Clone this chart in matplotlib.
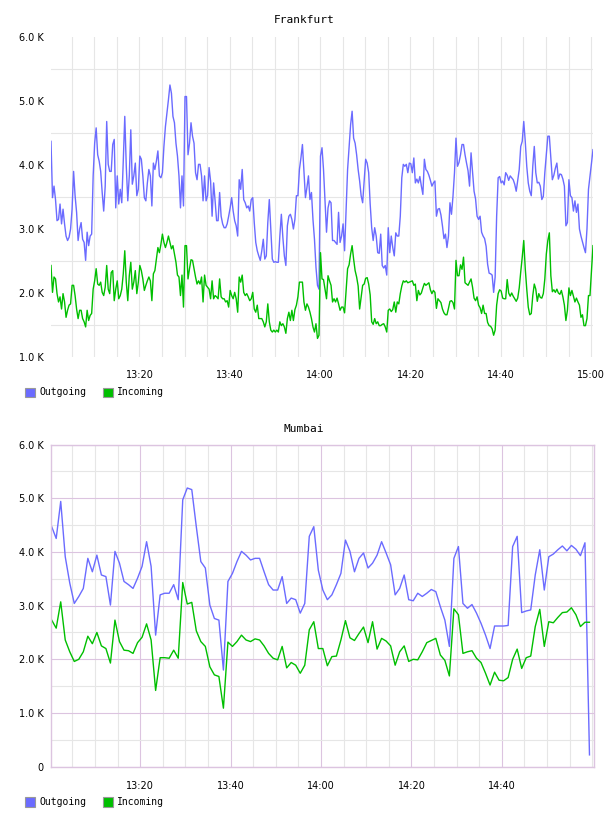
import matplotlib
matplotlib.use("Agg")
import matplotlib.pyplot as plt
import matplotlib.dates as mdates
from matplotlib.patches import Rectangle
from matplotlib.ticker import FixedLocator, FuncFormatter
import pandas as pd

# ---------------- data (values in thousands) ----------------
titles = ["Frankfurt", "Mumbai"]
series_names = ["Outgoing", "Incoming"]
series_colors = ["#6b6bff", "#00bf00"]

frankfurt_start = "2024-01-01 13:00:25"
frankfurt_step = "20s"
frankfurt_out = [
    4.37, 3.49, 3.67, 3.46, 3.13, 3.15, 3.39, 3.08, 3.31, 3.08,
    2.89, 2.82, 2.87, 3.00, 3.31, 3.90, 3.52, 3.26, 2.82, 3.00,
    3.10, 2.84, 2.79, 2.51, 2.95, 2.74, 2.89, 2.92, 3.83, 4.34,
    4.58, 4.16, 4.06, 3.90, 3.57, 3.28, 3.67, 4.68, 4.01, 3.90,
    3.90, 4.32, 4.40, 3.33, 3.83, 3.39, 3.62, 3.41, 4.06, 4.76,
    3.98, 3.44, 3.83, 4.55, 3.70, 3.83, 4.03, 3.52, 3.62, 4.14,
    4.09, 3.83, 3.49, 3.44, 3.72, 3.93, 3.83, 3.36, 4.03, 3.93,
    4.06, 4.22, 3.83,
    3.80, 3.88, 4.29, 4.60, 4.81, 5.02, 5.25, 5.12, 4.76, 4.66,
    4.34, 4.14, 3.83, 3.33, 3.83, 3.36, 5.07, 5.07, 4.16, 4.34,
    4.66, 4.45, 4.34, 3.88, 3.77, 4.01, 4.01, 3.83, 3.44, 3.83,
    3.44, 3.52, 3.96, 3.75, 3.20, 3.72, 3.44, 3.13, 3.13, 3.57,
    3.20, 3.08, 3.02, 3.02, 3.08, 3.20, 3.33, 3.49, 3.28, 3.13,
    3.05, 2.89, 3.77, 3.62, 3.93, 3.46, 3.41, 3.33, 3.36, 3.28,
    3.46, 3.49, 3.10, 2.79, 2.66, 2.58, 2.51, 2.66, 2.84, 2.53,
    2.58, 3.10,
    3.46, 3.00, 2.53, 2.48, 2.49, 2.48, 2.48, 2.89, 3.23, 2.87,
    2.58, 2.43, 3.05, 3.20, 3.23, 3.15, 3.00, 3.15, 3.52, 3.52,
    3.93, 4.11, 4.32, 3.90, 3.49, 3.65, 3.83, 3.46, 3.57, 3.15,
    2.84, 2.40, 2.12, 2.06, 4.14, 4.27, 3.93, 3.44, 2.95, 3.33,
    3.44, 3.41, 2.82, 2.82, 2.79, 2.76, 3.26, 2.79, 2.89, 3.08,
    2.66, 3.31, 3.93, 4.27, 4.63, 4.84, 4.42, 4.34, 4.16, 3.93,
    3.75, 3.52, 3.41, 3.75, 4.09, 4.03, 3.88, 3.39, 3.02, 2.82,
    3.02,
    2.89, 2.63, 2.62, 2.92, 2.43, 2.39, 2.43, 2.28, 3.02, 2.63,
    2.89, 2.71, 2.58, 2.94, 2.89, 2.89, 3.20, 3.80, 4.01, 3.98,
    4.01, 3.88, 4.03, 4.02, 3.88, 4.11, 3.72, 3.78, 3.72, 3.82,
    3.67, 3.54, 4.09, 3.93, 3.90, 3.84, 3.76, 3.67, 3.72, 3.75,
    3.20, 3.31, 3.32, 3.22, 3.05, 2.85, 2.92, 2.71, 2.89, 3.41,
    3.23, 3.51, 3.88, 4.42, 3.98, 4.04, 4.16, 4.32, 4.32, 4.16,
    4.03, 3.91, 3.67, 4.19, 3.90, 3.59, 3.47, 3.20, 3.15, 3.20,
    2.95, 2.89,
    2.85, 2.73, 2.45, 2.31, 2.30, 2.28, 2.01, 2.25, 3.20, 3.80,
    3.82, 3.72, 3.75, 3.69, 3.88, 3.84, 3.76, 3.83, 3.80, 3.77,
    3.70, 3.59, 3.76, 3.93, 4.29, 4.37, 4.68, 4.37, 3.98, 3.72,
    3.59, 3.52, 3.98, 4.29, 3.88, 3.72, 3.73, 3.67, 3.46, 3.51,
    3.88, 4.16, 4.45, 4.45, 4.11, 3.77, 3.84, 3.95, 4.03, 3.78,
    3.86, 3.85, 3.78, 3.67, 3.05, 3.10, 3.77, 3.52, 3.49, 3.28,
    3.44, 3.26, 3.39, 3.00, 2.89, 2.80, 2.71, 2.63, 3.00, 3.62,
    3.82, 4.03, 4.24,
]
frankfurt_in = [
    2.43, 2.01, 2.25, 2.22, 1.99, 1.86, 1.94, 1.75, 1.99, 1.86,
    1.62, 1.73, 1.81, 1.83, 2.12, 2.12, 1.96, 1.75, 1.60, 1.73,
    1.73, 1.60, 1.55, 1.47, 1.73, 1.57, 1.65, 1.68, 2.06, 2.19,
    2.38, 2.14, 2.12, 2.17, 2.01, 1.96, 2.09, 2.43, 2.06, 1.99,
    2.32, 2.35, 1.88, 2.06, 2.19, 1.91, 1.96, 2.06, 2.30, 2.66,
    2.17, 1.88, 2.27, 2.48, 2.06, 2.17, 2.35, 1.99, 2.17, 2.43,
    2.35, 2.22, 2.04, 2.12, 2.19, 2.25, 2.19, 1.88, 2.30, 2.35,
    2.53, 2.71, 2.63,
    2.76, 2.92, 2.79, 2.71, 2.79, 2.89, 2.79, 2.69, 2.74, 2.61,
    2.48, 2.28, 2.25, 1.96, 2.28, 1.78, 2.74, 2.74, 2.22, 2.38,
    2.52, 2.51, 2.38, 2.25, 2.14, 2.19, 2.14, 2.25, 1.86, 2.28,
    2.12, 2.09, 2.06, 1.91, 2.19, 1.91, 1.96, 1.94, 1.91, 2.22,
    1.94, 1.91, 1.91, 1.86, 1.88, 1.78, 2.04, 1.96, 1.91, 2.01,
    1.91, 1.70, 2.25, 2.17, 2.28, 2.01, 1.96, 1.99, 1.94, 1.88,
    1.91, 2.01, 1.75, 1.70, 1.81, 1.60, 1.60, 1.60, 1.55, 1.47,
    1.55, 1.83,
    1.55, 1.42, 1.39, 1.42, 1.39, 1.42, 1.39, 1.55, 1.49, 1.52,
    1.47, 1.37, 1.60, 1.70, 1.57, 1.73, 1.57, 1.74, 1.81, 1.94,
    2.17, 2.17, 2.17, 1.86, 1.73, 1.83, 1.78, 1.70, 1.60, 1.47,
    1.39, 1.52, 1.29, 1.34, 2.63, 2.22, 2.21, 2.06, 1.91, 2.27,
    2.19, 2.12, 1.86, 1.91, 1.86, 1.92, 1.83, 1.73, 1.78, 1.78,
    1.69, 2.04, 2.38, 2.44, 2.61, 2.74, 2.53, 2.35, 2.25, 2.11,
    1.75, 1.94, 2.12, 2.14, 2.23, 2.24, 2.14, 1.97, 1.55, 1.51,
    1.60,
    1.52, 1.55, 1.49, 1.49, 1.51, 1.52, 1.47, 1.39, 1.73, 1.75,
    1.71, 1.74, 1.86, 1.70, 1.86, 1.83, 1.99, 2.11, 2.19, 2.17,
    2.19, 2.16, 2.17, 2.18, 2.19, 2.12, 2.14, 1.88, 2.04, 1.97,
    2.00, 2.08, 2.15, 2.12, 2.14, 2.16, 2.05, 1.99, 2.04, 2.01,
    1.76, 1.91, 1.88, 1.85, 1.75, 1.69, 1.66, 1.66, 1.76, 1.87,
    1.88, 1.85, 1.75, 2.51, 2.27, 2.27, 2.44, 2.37, 2.56, 2.16,
    2.14, 2.12, 2.17, 2.22, 2.09, 1.92, 1.88, 1.94, 1.81, 1.77,
    1.68, 1.81,
    1.68, 1.68, 1.54, 1.49, 1.48, 1.44, 1.34, 1.42, 1.81, 1.99,
    2.05, 2.03, 1.92, 1.91, 1.91, 2.21, 2.00, 1.95, 2.00, 1.95,
    1.91, 1.87, 1.92, 2.08, 2.33, 2.56, 2.82, 2.38, 2.06, 1.78,
    1.66, 1.68, 1.96, 2.14, 2.06, 1.87, 1.99, 1.93, 1.92, 1.99,
    2.22, 2.61, 2.82, 2.94, 2.27, 2.02, 2.05, 2.01, 2.06, 2.00,
    1.98, 2.04, 1.94, 1.81, 1.57, 1.73, 2.08, 1.96, 2.04, 1.95,
    1.86, 1.92, 1.86, 1.81, 1.62, 1.66, 1.49, 1.49, 1.60, 1.96,
    1.96, 2.35, 2.74,
]

mumbai_start = "2024-01-01 13:00:24"
mumbai_step = "60s"
mumbai_out = [
    4.47, 4.25, 4.94, 3.91, 3.42, 3.04, 3.17, 3.32, 3.88, 3.63,
    3.94, 3.57, 3.54, 3.01, 4.01, 3.79, 3.45, 3.39, 3.32, 3.51,
    3.73, 4.19, 3.73, 2.45, 3.20, 3.23, 3.23, 3.39, 3.11, 4.97,
    5.19, 5.16, 4.47, 3.82, 3.70, 3.01, 2.76, 2.73, 1.80, 3.45,
    3.60, 3.82, 4.01, 3.94, 3.85, 3.88, 3.88, 3.63, 3.39, 3.29,
    3.29, 3.54, 3.04, 3.14, 3.11, 2.86, 3.04, 4.29,
    4.47, 3.66, 3.29, 3.11, 3.20, 3.39, 3.60, 4.22, 4.01, 3.63,
    3.88, 3.98, 3.70, 3.79, 3.94, 4.19, 3.98, 3.76, 3.20, 3.32,
    3.57, 3.11, 3.09, 3.23, 3.17, 3.23, 3.30, 3.26, 2.98, 2.73,
    2.24, 3.88, 4.10, 3.04, 2.95, 3.02, 2.86, 2.67, 2.45, 2.20,
    2.62, 2.62, 2.62, 2.63, 4.10, 4.29, 2.87, 2.90, 2.92, 3.57,
    4.04, 3.29, 3.91, 3.96, 4.04, 4.11, 4.02, 4.12, 4.05, 3.93,
    4.17, 0.22,
]
mumbai_in = [
    2.73, 2.58, 3.07, 2.36, 2.14, 1.96, 2.00, 2.14, 2.43, 2.29,
    2.50, 2.25, 2.20, 1.93, 2.73, 2.33, 2.17, 2.16, 2.11, 2.31,
    2.41, 2.66, 2.36, 1.42, 2.03, 2.03, 2.02, 2.17, 2.02, 3.43,
    3.03, 3.06, 2.53, 2.33, 2.24, 1.86, 1.71, 1.68, 1.09, 2.32,
    2.24, 2.33, 2.45, 2.36, 2.33, 2.38, 2.36, 2.25, 2.11, 2.02,
    1.99, 2.24, 1.84, 1.94, 1.89, 1.74, 1.89, 2.55,
    2.70, 2.20, 2.20, 1.88, 2.05, 2.06, 2.36, 2.72, 2.40, 2.35,
    2.48, 2.60, 2.31, 2.70, 2.19, 2.39, 2.34, 2.25, 1.89, 2.14,
    2.25, 1.96, 2.00, 1.99, 2.14, 2.31, 2.35, 2.39, 2.08, 1.98,
    1.69, 2.94, 2.83, 2.11, 2.14, 2.16, 2.02, 1.94, 1.74, 1.52,
    1.76, 1.61, 1.60, 1.66, 2.00, 2.19, 1.83, 2.03, 2.06, 2.61,
    2.93, 2.24, 2.70, 2.68, 2.78, 2.87, 2.88, 2.96, 2.83, 2.61,
    2.69, 2.69,
]

frankfurt_yticks = [1, 2, 3, 4, 5, 6]
mumbai_yticks = [0, 1, 2, 3, 4, 5, 6]
frankfurt_xlabels = ["13:20", "13:40", "14:00", "14:20", "14:40", "15:00"]
mumbai_xlabels = ["13:20", "13:40", "14:00", "14:20", "14:40"]

# ---------------- figure ----------------
W, H = 608, 816
fig = plt.figure(figsize=(W / 100, H / 100), dpi=100)
fig.patch.set_facecolor("white")

GRID = "#e6e6e6"
MAJOR = "#dcc4e0"
MONO = "DejaVu Sans Mono"


def rect(l, t, r, b):
    return [l / W, 1 - b / H, (r - l) / W, (b - t) / H]


def kfmt(v, _):
    return "0" if abs(v) < 1e-9 else f"{v:.1f} K"


def day(s):
    return pd.Timestamp("2024-01-01 " + s)


def legend(y):
    items = [(24.5, 39, series_colors[0], series_names[0]),
             (102.5, 117, series_colors[1], series_names[1])]
    for sx, tx, c, name in items:
        fig.add_artist(Rectangle((sx / W, 1 - (y + 5) / H), 10 / W, 10 / H,
                                 transform=fig.transFigure, facecolor=c,
                                 edgecolor="#999999", lw=0.8))
        fig.text(tx / W, 1 - y / H, name, family=MONO, fontsize=7,
                 va="center", ha="left", color="#000000")


# ---- Frankfurt ----
ax1 = fig.add_axes(rect(51, 37, 593, 357))
t1 = pd.date_range(frankfurt_start, periods=len(frankfurt_out), freq=frankfurt_step)
ax1.plot(t1, frankfurt_out, color=series_colors[0], lw=1.0)
ax1.plot(t1, frankfurt_in, color=series_colors[1], lw=1.0)
ax1.set_xlim(day("13:00:25"), day("15:00:25"))
ax1.set_ylim(1, 6)
for s in ax1.spines.values():
    s.set_visible(False)
ax1.yaxis.set_major_locator(FixedLocator(frankfurt_yticks))
ax1.yaxis.set_major_formatter(FuncFormatter(kfmt))
ax1.yaxis.set_minor_locator(FixedLocator([1.5, 2.5, 3.5, 4.5, 5.5]))
ax1.xaxis.set_major_locator(FixedLocator([mdates.date2num(day(s)) for s in frankfurt_xlabels]))
ax1.xaxis.set_major_formatter(mdates.DateFormatter("%H:%M"))
ax1.xaxis.set_minor_locator(mdates.MinuteLocator(byminute=range(0, 60, 5)))
ax1.grid(True, which="minor", color=GRID, lw=0.8)
ax1.grid(False, which="major", axis="y")
ax1.grid(True, which="major", axis="x", color=GRID, lw=0.8)
ax1.set_axisbelow(True)
ax1.tick_params(which="both", length=0)
ax1.tick_params(axis="y", labelsize=7, pad=5)
ax1.tick_params(axis="x", labelsize=7, pad=9)
fig.text(0.5, 1 - 20 / H, titles[0], family=MONO, fontsize=8, ha="center", va="center")
legend(392.5)

# ---- Mumbai ----
ax2 = fig.add_axes(rect(50.7, 444.5, 594, 766.7))
t2 = pd.date_range(mumbai_start, periods=len(mumbai_out), freq=mumbai_step)
ax2.plot(t2, mumbai_out, color=series_colors[0], lw=1.0)
ax2.plot(t2, mumbai_in, color=series_colors[1], lw=1.0)
ax2.set_xlim(day("13:00:11"), day("15:00:24"))
ax2.set_ylim(0, 6)
for s in ax2.spines.values():
    s.set_color(MAJOR)
    s.set_linewidth(1.0)
ax2.yaxis.set_major_locator(FixedLocator(mumbai_yticks))
ax2.yaxis.set_major_formatter(FuncFormatter(kfmt))
ax2.yaxis.set_minor_locator(FixedLocator([0.5, 1.5, 2.5, 3.5, 4.5, 5.5]))
ax2.xaxis.set_major_locator(FixedLocator([mdates.date2num(day(s)) for s in mumbai_xlabels]))
ax2.xaxis.set_major_formatter(mdates.DateFormatter("%H:%M"))
ax2.xaxis.set_minor_locator(mdates.MinuteLocator(byminute=range(0, 60, 5)))
ax2.grid(True, which="minor", color=GRID, lw=0.8)
ax2.grid(True, which="major", color=MAJOR, lw=0.8)
ax2.set_axisbelow(True)
ax2.tick_params(which="both", length=0)
ax2.tick_params(axis="y", labelsize=7, pad=5)
ax2.tick_params(axis="x", labelsize=7, pad=10)
fig.text(0.5, 1 - 428.5 / H, titles[1], family=MONO, fontsize=8, ha="center", va="center")
legend(802)

fig.savefig("out.png", dpi=100, facecolor="white")
